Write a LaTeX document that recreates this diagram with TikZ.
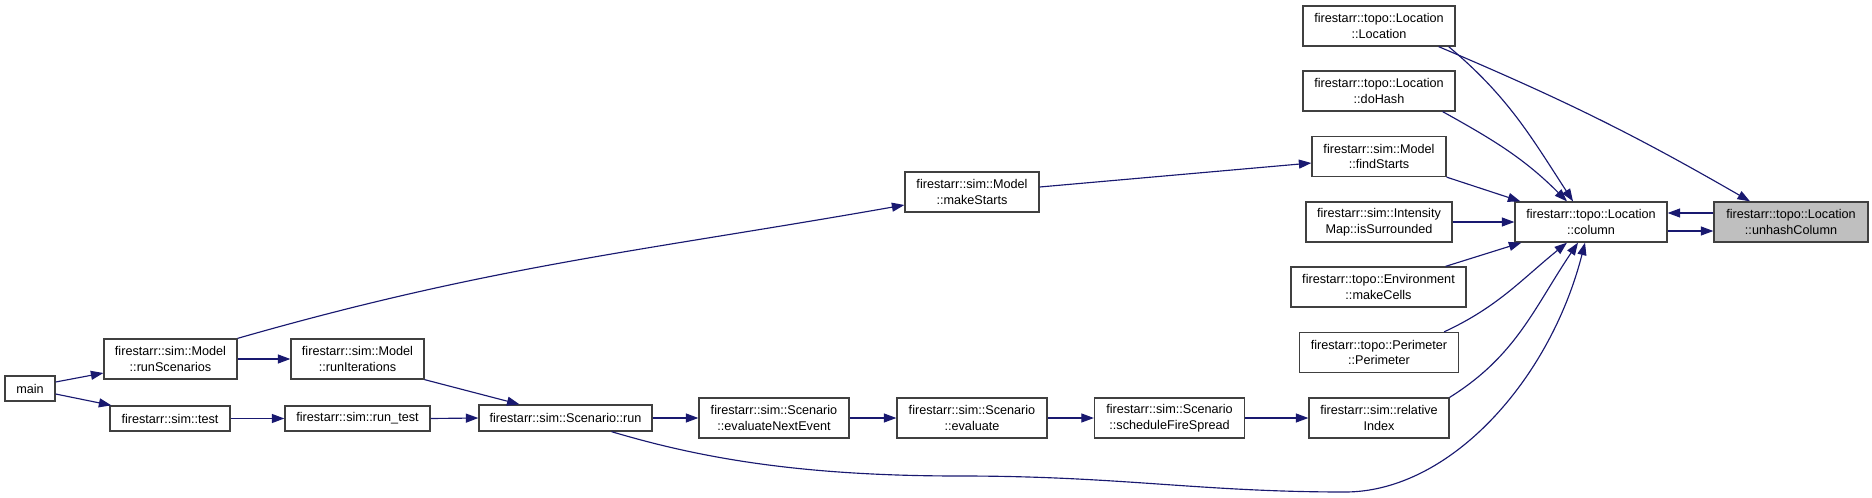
\documentclass[tikz,border=0pt]{standalone}
\usepackage{fontspec}
\setmainfont{Liberation Sans}
\usetikzlibrary{arrows.meta,calc}
\definecolor{edgeblue}{HTML}{191970}
\definecolor{boxline}{HTML}{404040}
\definecolor{rootfill}{HTML}{BFBFBF}

\begin{document}
\begin{tikzpicture}[x=0.02cm, y=-0.02cm,
	fnbox/.style={shape=rectangle, draw=boxline, fill=white, line width=0.74pt, minimum height=0.8cm, inner sep=0pt, align=center, font=\fontsize{7.2}{8.8}\selectfont},
	call/.style={draw=edgeblue, line width=0.65pt, -{Triangle[length=0.25cm, width=0.18cm]}}]
	\useasboundingbox (0,0) rectangle (1872,497);
	% Paths, nodes and wires:
	\node[fnbox, minimum width=1cm, minimum height=0.5cm] (main) at (30, 388.5){main};
	\node[fnbox, minimum width=2.66cm] (runScen) at (170.5, 359){firestarr::sim::Model\\::runScenarios};
	\node[fnbox, minimum width=2.66cm] (runIter) at (357.5, 359){firestarr::sim::Model\\::runIterations};
	\node[fnbox, minimum width=2.4cm, minimum height=0.5cm] (simTest) at (170, 418.5){firestarr::sim::test};
	\node[fnbox, minimum width=2.9cm, minimum height=0.5cm] (runTest) at (357.5, 418.5){firestarr::sim::run\_test};
	\node[fnbox, minimum width=3.46cm, minimum height=0.52cm] (scenRun) at (565.5, 418){firestarr::sim::Scenario::run};
	\node[fnbox, minimum width=3cm] (evalNext) at (774, 418){firestarr::sim::Scenario\\::evaluateNextEvent};
	\node[fnbox, minimum width=3cm] (evalScen) at (972, 418){firestarr::sim::Scenario\\::evaluate};
	\node[fnbox, minimum width=3cm] (schedSpread) at (1169.5, 418){firestarr::sim::Scenario\\::scheduleFireSpread};
	\node[fnbox, minimum width=2.8cm] (relIndex) at (1379, 418){firestarr::sim::relative\\Index};
	\node[fnbox, minimum width=2.68cm] (makeStarts) at (972, 192){firestarr::sim::Model\\::makeStarts};
	\node[fnbox, minimum width=3.04cm] (locCtor) at (1379, 26){firestarr::topo::Location\\::Location};
	\node[fnbox, minimum width=3.04cm] (doHash) at (1379, 91){firestarr::topo::Location\\::doHash};
	\node[fnbox, minimum width=2.68cm] (findStarts) at (1379, 156.5){firestarr::sim::Model\\::findStarts};
	\node[fnbox, minimum width=2.92cm] (isSurr) at (1379, 222){firestarr::sim::Intensity\\Map::isSurrounded};
	\node[fnbox, minimum width=3.5cm] (makeCells) at (1378.5, 287){firestarr::topo::Environment\\::makeCells};
	\node[fnbox, minimum width=3.18cm] (perimeter) at (1379, 352.5){firestarr::topo::Perimeter\\::Perimeter};
	\node[fnbox, minimum width=3.04cm] (column) at (1591, 222){firestarr::topo::Location\\::column};
	\node[fnbox, fill=rootfill, minimum width=3.08cm] (unhash) at (1791, 222){firestarr::topo::Location\\::unhashColumn};
	% left part
	\draw[call] ($(main.east)+(0,-6.5)$) -- ($(runScen.west)+(0,14)$);
	\draw[call] ($(main.east)+(0,5.5)$) -- ($(simTest.north west)+(2,0)$);
	\draw[call] (runScen.east) -- (runIter.west);
	\draw[call] (runScen.north east) to[out=16, in=190] ($(makeStarts.west)+(0,13)$);
	\draw[call] ($(makeStarts.east)+(0,-5)$) -- ($(findStarts.west)+(0,6.5)$);
	\draw[call] (runIter.south east) -- ($(scenRun.north)+(-46,0)$);
	\draw[call] (simTest.east) -- (runTest.west);
	\draw[call] (runTest.east) -- (scenRun.west);
	\draw[call] (scenRun.east) -- (evalNext.west);
	\draw[call] (evalNext.east) -- (evalScen.west);
	\draw[call] (evalScen.east) -- (schedSpread.west);
	\draw[call] (schedSpread.east) -- (relIndex.west);
	% into column
	\draw[call] ($(locCtor.south east)+(-17,0)$) to[out=-23, in=150] ($(unhash.north)+(-41,0)$);
	\draw[call] ($(locCtor.south east)+(-7,0)$) to[out=-40, in=123] ($(column.north)+(-18,0)$);
	\draw[call] ($(doHash.south east)+(-13,0)$) to[out=-29, in=135] ($(column.north)+(-24,0)$);
	\draw[call] (findStarts.south east) -- ($(column.north west)+(6,0)$);
	\draw[call] (isSurr.east) -- (column.west);
	\draw[call] ($(makeCells.north east)+(-21,0)$) -- ($(column.south west)+(7,0)$);
	\draw[call] ($(perimeter.north east)+(-15,0)$) to[out=25, in=-141] ($(column.south)+(-24,0)$);
	\draw[call] (relIndex.north east) to[out=32, in=-124] ($(column.south)+(-13,0)$);
	\draw[call] ($(scenRun.south)+(46,0)$) .. controls (700,458) and (800,476) .. (960,476) .. controls (1120,476) and (1200,492) .. (1345,492) .. controls (1450,492) and (1550,380) .. ($(column.south)+(-6,0)$);
	\draw[call] ($(unhash.west)+(0,-9)$) -- ($(column.east)+(0,-9)$);
	\draw[call] ($(column.east)+(0,9)$) -- ($(unhash.west)+(0,9)$);
\end{tikzpicture}
\end{document}
